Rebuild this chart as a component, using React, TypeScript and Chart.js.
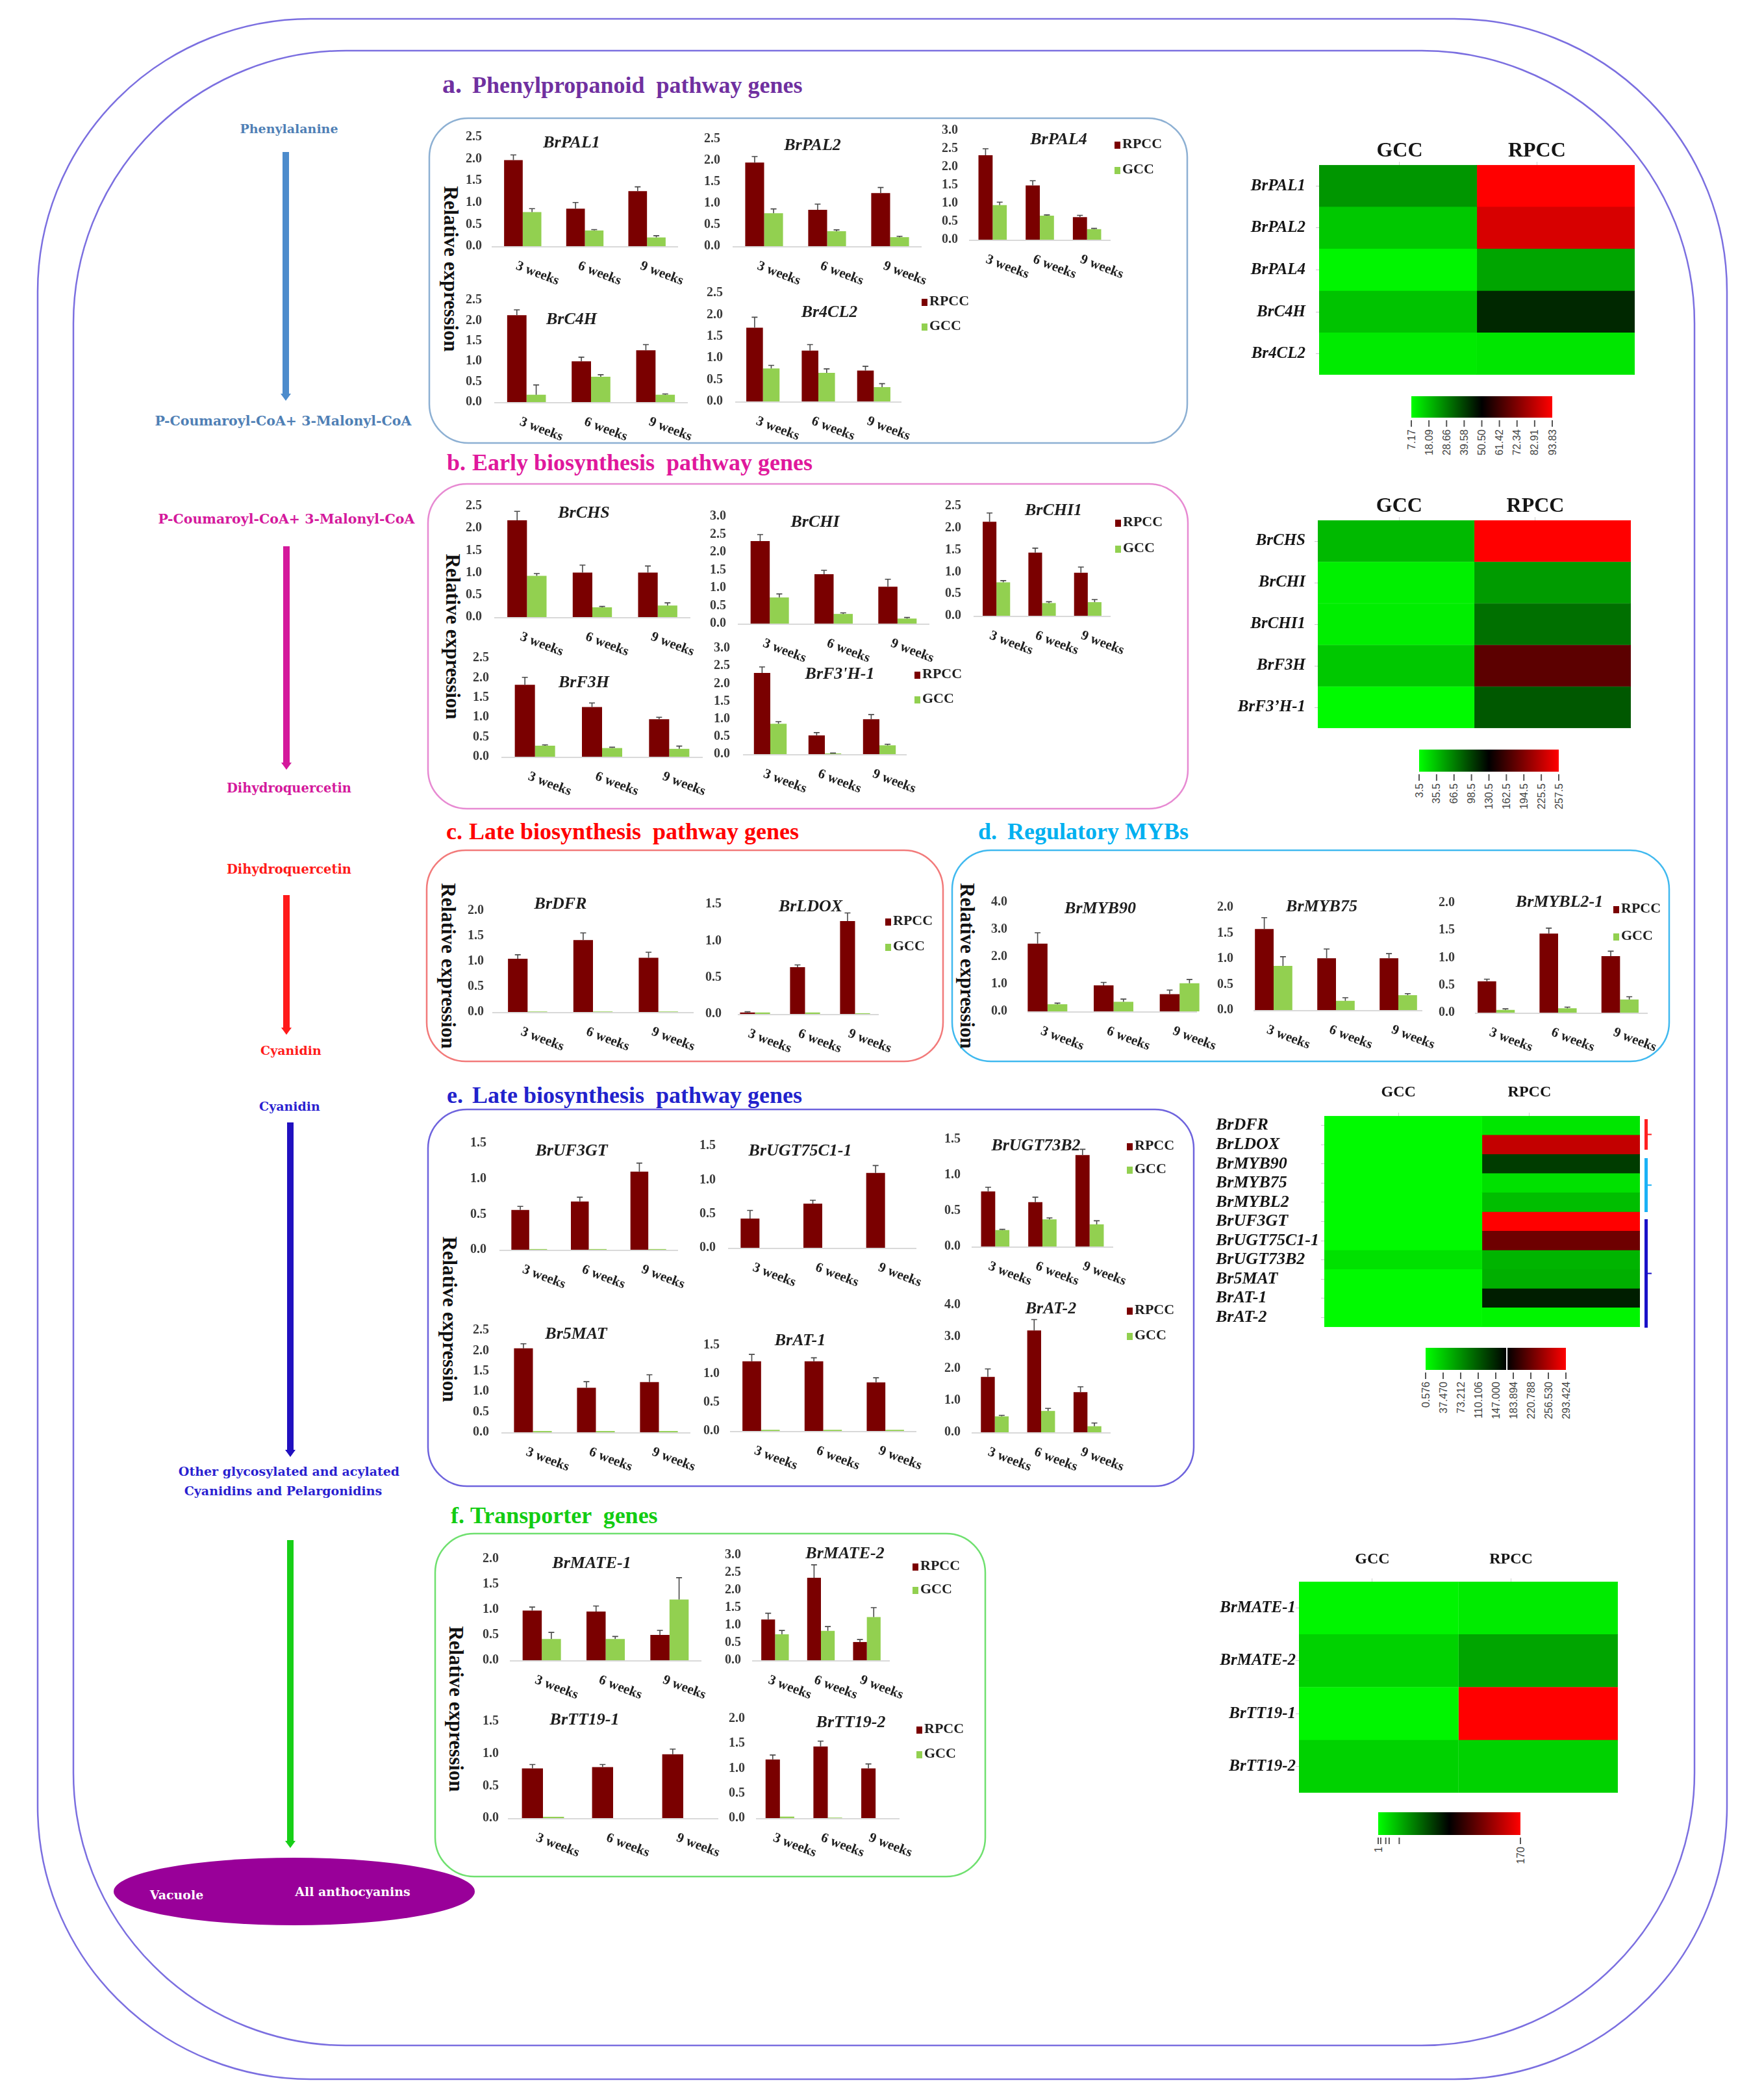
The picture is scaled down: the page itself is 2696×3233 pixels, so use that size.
import React, { useEffect, useRef } from "react";
import { Chart, registerables } from "chart.js";

Chart.register(...registerables);

const SERIF = "Liberation Serif";
const WIDE = "DejaVu Serif";
const SANS = "Liberation Sans";

// ---------- bar chart data ----------
const WEEKS = ["3 weeks", "6 weeks", "9 weeks"];
const SERIES = ["RPCC", "GCC"];
const SERIES_COLORS = ["#7a0000", "#92d050"];

// a. Phenylpropanoid pathway genes
const BrPAL1_RPCC = [1.97, 0.86, 1.26];
const BrPAL1_RPCC_ERR = [0.12, 0.14, 0.1];
const BrPAL1_GCC = [0.78, 0.36, 0.2];
const BrPAL1_GCC_ERR = [0.08, 0.02, 0.04];
const BrPAL2_RPCC = [1.95, 0.85, 1.24];
const BrPAL2_RPCC_ERR = [0.14, 0.13, 0.13];
const BrPAL2_GCC = [0.77, 0.35, 0.21];
const BrPAL2_GCC_ERR = [0.1, 0.03, 0.02];
const BrPAL4_RPCC = [2.32, 1.49, 0.62];
const BrPAL4_RPCC_ERR = [0.18, 0.13, 0.05];
const BrPAL4_GCC = [0.95, 0.66, 0.29];
const BrPAL4_GCC_ERR = [0.08, 0.02, 0.02];
const BrC4H_RPCC = [2.13, 1.0, 1.27];
const BrC4H_RPCC_ERR = [0.13, 0.1, 0.14];
const BrC4H_GCC = [0.18, 0.62, 0.18];
const BrC4H_GCC_ERR = [0.24, 0.05, 0.02];
const Br4CL2_RPCC = [1.7, 1.17, 0.71];
const Br4CL2_RPCC_ERR = [0.24, 0.14, 0.1];
const Br4CL2_GCC = [0.76, 0.66, 0.33];
const Br4CL2_GCC_ERR = [0.07, 0.09, 0.08];
// b. Early biosynthesis pathway genes
const BrCHS_RPCC = [2.18, 1.0, 1.0];
const BrCHS_RPCC_ERR = [0.2, 0.17, 0.15];
const BrCHS_GCC = [0.93, 0.22, 0.26];
const BrCHS_GCC_ERR = [0.05, 0.02, 0.06];
const BrCHI_RPCC = [2.31, 1.38, 1.03];
const BrCHI_RPCC_ERR = [0.18, 0.11, 0.21];
const BrCHI_GCC = [0.73, 0.27, 0.14];
const BrCHI_GCC_ERR = [0.1, 0.03, 0.03];
const BrCHI1_RPCC = [2.14, 1.44, 0.98];
const BrCHI1_RPCC_ERR = [0.2, 0.1, 0.13];
const BrCHI1_GCC = [0.76, 0.29, 0.31];
const BrCHI1_GCC_ERR = [0.04, 0.03, 0.06];
const BrF3H_RPCC = [1.82, 1.26, 0.95];
const BrF3H_RPCC_ERR = [0.19, 0.1, 0.05];
const BrF3H_GCC = [0.28, 0.22, 0.2];
const BrF3H_GCC_ERR = [0.02, 0.02, 0.07];
const BrF3pH1_RPCC = [2.3, 0.53, 0.99];
const BrF3pH1_RPCC_ERR = [0.17, 0.08, 0.13];
const BrF3pH1_GCC = [0.86, 0.02, 0.25];
const BrF3pH1_GCC_ERR = [0.06, 0.01, 0.03];
// c. Late biosynthesis pathway genes
const BrDFR_RPCC = [1.05, 1.42, 1.07];
const BrDFR_RPCC_ERR = [0.08, 0.14, 0.11];
const BrDFR_GCC = [0.01, 0.01, 0.01];
const BrDFR_GCC_ERR = [0, 0, 0];
const BrLDOX_RPCC = [0.02, 0.64, 1.27];
const BrLDOX_RPCC_ERR = [0.01, 0.03, 0.11];
const BrLDOX_GCC = [0.02, 0.02, 0.01];
const BrLDOX_GCC_ERR = [0, 0, 0];
// d. Regulatory MYBs
const BrMYB90_RPCC = [2.48, 0.95, 0.63];
const BrMYB90_RPCC_ERR = [0.4, 0.11, 0.15];
const BrMYB90_GCC = [0.26, 0.35, 1.03];
const BrMYB90_GCC_ERR = [0.04, 0.1, 0.14];
const BrMYB75_RPCC = [1.58, 1.01, 1.01];
const BrMYB75_RPCC_ERR = [0.22, 0.18, 0.09];
const BrMYB75_GCC = [0.86, 0.18, 0.29];
const BrMYB75_GCC_ERR = [0.18, 0.06, 0.03];
const BrMYBL21_RPCC = [0.57, 1.44, 1.03];
const BrMYBL21_RPCC_ERR = [0.04, 0.1, 0.09];
const BrMYBL21_GCC = [0.05, 0.08, 0.24];
const BrMYBL21_GCC_ERR = [0.02, 0.02, 0.05];
// e. Late biosynthesis pathway genes
const BrUF3GT_RPCC = [0.56, 0.68, 1.1];
const BrUF3GT_RPCC_ERR = [0.05, 0.06, 0.12];
const BrUF3GT_GCC = [0.01, 0.01, 0.01];
const BrUF3GT_GCC_ERR = [0, 0, 0];
const BrUGT75C11_RPCC = [0.43, 0.65, 1.1];
const BrUGT75C11_RPCC_ERR = [0.12, 0.05, 0.11];
const BrUGT75C11_GCC = [0, 0, 0];
const BrUGT75C11_GCC_ERR = [0, 0, 0];
const BrUGT73B2_RPCC = [0.77, 0.62, 1.28];
const BrUGT73B2_RPCC_ERR = [0.06, 0.07, 0.08];
const BrUGT73B2_GCC = [0.23, 0.38, 0.31];
const BrUGT73B2_GCC_ERR = [0.01, 0.02, 0.05];
const Br5MAT_RPCC = [2.06, 1.09, 1.23];
const Br5MAT_RPCC_ERR = [0.11, 0.15, 0.18];
const Br5MAT_GCC = [0.03, 0.03, 0.03];
const Br5MAT_GCC_ERR = [0, 0, 0];
const BrAT1_RPCC = [1.22, 1.22, 0.85];
const BrAT1_RPCC_ERR = [0.12, 0.06, 0.08];
const BrAT1_GCC = [0.02, 0.02, 0.02];
const BrAT1_GCC_ERR = [0, 0, 0];
const BrAT2_RPCC = [1.74, 3.2, 1.26];
const BrAT2_RPCC_ERR = [0.25, 0.34, 0.17];
const BrAT2_GCC = [0.5, 0.67, 0.19];
const BrAT2_GCC_ERR = [0.03, 0.08, 0.1];
// f. Transporter genes
const BrMATE1_RPCC = [0.98, 0.96, 0.5];
const BrMATE1_RPCC_ERR = [0.07, 0.11, 0.09];
const BrMATE1_GCC = [0.42, 0.42, 1.2];
const BrMATE1_GCC_ERR = [0.13, 0.05, 0.43];
const BrMATE2_RPCC = [1.16, 2.35, 0.52];
const BrMATE2_RPCC_ERR = [0.18, 0.37, 0.07];
const BrMATE2_GCC = [0.74, 0.84, 1.23];
const BrMATE2_GCC_ERR = [0.11, 0.12, 0.27];
const BrTT191_RPCC = [0.77, 0.79, 0.99];
const BrTT191_RPCC_ERR = [0.06, 0.04, 0.08];
const BrTT191_GCC = [0.02, 0, 0];
const BrTT191_GCC_ERR = [0, 0, 0];
const BrTT192_RPCC = [1.18, 1.44, 1.0];
const BrTT192_RPCC_ERR = [0.09, 0.11, 0.09];
const BrTT192_GCC = [0.03, 0.01, 0];
const BrTT192_GCC_ERR = [0, 0, 0];

// ---------- heatmap data ----------
const HM_COLUMNS = ["GCC", "RPCC"];
const HM_A_GENES = ["BrPAL1", "BrPAL2", "BrPAL4", "BrC4H", "Br4CL2"];
const HM_A_GCC = [25.0, 16.5, 8.9, 17.4, 10.6];
const HM_A_RPCC = [93.8, 87.0, 22.5, 43.7, 11.4];
const HM_A_RANGE = [7.17, 93.83];
const HM_A_TICKS = ["7.17", "18.09", "28.66", "39.58", "50.50", "61.42", "72.34", "82.91", "93.83"];

const HM_B_GENES = ["BrCHS", "BrCHI", "BrCHI1", "BrF3H", "BrF3\u2019H-1"];
const HM_B_GCC = [38.4, 11.0, 12.0, 30.9, 6.0];
const HM_B_RPCC = [257.5, 53.3, 74.7, 176.3, 86.7];
const HM_B_RANGE = [3.5, 257.5];
const HM_B_TICKS = ["3.5", "35.5", "66.5", "98.5", "130.5", "162.5", "194.5", "225.5", "257.5"];

const HM_E_GENES = ["BrDFR", "BrLDOX", "BrMYB90", "BrMYB75", "BrMYBL2", "BrUF3GT", "BrUGT75C1-1", "BrUGT73B2", "Br5MAT", "BrAT-1", "BrAT-2"];
const HM_E_GCC = [3.5, 3.5, 3.5, 3.5, 3.5, 3.5, 3.5, 17.8, 3.5, 3.5, 3.5];
const HM_E_RPCC = [15.0, 259.0, 112.5, 17.8, 38.0, 293.4, 210.2, 43.6, 46.5, 129.8, 6.3];
const HM_E_RANGE = [0.576, 293.424];
const HM_E_TICKS = ["0.576", "37.470", "73.212", "110.106", "147.000", "183.894", "220.788", "256.530", "293.424"];

const HM_F_GENES = ["BrMATE-1", "BrMATE-2", "BrTT19-1", "BrTT19-2"];
const HM_F_GCC = [4.3, 15.9, 4.3, 15.9];
const HM_F_RPCC = [7.6, 30.8, 170.0, 15.9];
const HM_F_RANGE = [1, 170];
const HM_F_TICK_VALUES = [1, 4, 10, 14, 26, 170];
const HM_F_TICKS = ["1", "", "", "", "", "170"];

// ---------- layout (positions only) ----------
const BAR_LAYOUT = [
  { gene: "BrPAL1", d: [BrPAL1_RPCC, BrPAL1_GCC], e: [BrPAL1_RPCC_ERR, BrPAL1_GCC_ERR], ymax: 2.5, step: 0.5, x0: 757, x1: 1044, yTop: 211, yBot: 379, lr: 742, title: [880, 220] },
  { gene: "BrPAL2", d: [BrPAL2_RPCC, BrPAL2_GCC], e: [BrPAL2_RPCC_ERR, BrPAL2_GCC_ERR], ymax: 2.5, step: 0.5, x0: 1128, x1: 1419, yTop: 214, yBot: 379, lr: 1109, title: [1251, 224] },
  { gene: "BrPAL4", d: [BrPAL4_RPCC, BrPAL4_GCC], e: [BrPAL4_RPCC_ERR, BrPAL4_GCC_ERR], ymax: 3.0, step: 0.5, x0: 1492, x1: 1710, yTop: 201, yBot: 369, lr: 1475, title: [1630, 215], legend: [1716, 222, 261] },
  { gene: "BrC4H", d: [BrC4H_RPCC, BrC4H_GCC], e: [BrC4H_RPCC_ERR, BrC4H_GCC_ERR], ymax: 2.5, step: 0.5, x0: 761, x1: 1059, yTop: 462, yBot: 619, lr: 742, title: [880, 492] },
  { gene: "Br4CL2", d: [Br4CL2_RPCC, Br4CL2_GCC], e: [Br4CL2_RPCC_ERR, Br4CL2_GCC_ERR], ymax: 2.5, step: 0.5, x0: 1132, x1: 1388, yTop: 451, yBot: 618, lr: 1113, title: [1277, 481], legend: [1419, 464, 502] },
  { gene: "BrCHS", d: [BrCHS_RPCC, BrCHS_GCC], e: [BrCHS_RPCC_ERR, BrCHS_GCC_ERR], ymax: 2.5, step: 0.5, x0: 761, x1: 1063, yTop: 779, yBot: 950, lr: 742, title: [899, 790] },
  { gene: "BrCHI", d: [BrCHI_RPCC, BrCHI_GCC], e: [BrCHI_RPCC_ERR, BrCHI_GCC_ERR], ymax: 3.0, step: 0.5, x0: 1136, x1: 1431, yTop: 795, yBot: 960, lr: 1118, title: [1255, 804] },
  { gene: "BrCHI1", d: [BrCHI1_RPCC, BrCHI1_GCC], e: [BrCHI1_RPCC_ERR, BrCHI1_GCC_ERR], ymax: 2.5, step: 0.5, x0: 1499, x1: 1710, yTop: 779, yBot: 948, lr: 1480, title: [1622, 786], legend: [1717, 804, 844] },
  { gene: "BrF3H", d: [BrF3H_RPCC, BrF3H_GCC], e: [BrF3H_RPCC_ERR, BrF3H_GCC_ERR], ymax: 2.5, step: 0.5, x0: 772, x1: 1082, yTop: 1013, yBot: 1165, lr: 753, title: [899, 1051] },
  { gene: "BrF3'H-1", d: [BrF3pH1_RPCC, BrF3pH1_GCC], e: [BrF3pH1_RPCC_ERR, BrF3pH1_GCC_ERR], ymax: 3.0, step: 0.5, x0: 1144, x1: 1396, yTop: 998, yBot: 1161, lr: 1124, title: [1293, 1038], legend: [1408, 1038, 1076] },
  { gene: "BrDFR", d: [BrDFR_RPCC, BrDFR_GCC], e: [BrDFR_RPCC_ERR, BrDFR_GCC_ERR], ymax: 2.0, step: 0.5, x0: 762, x1: 1064, yTop: 1402, yBot: 1558, lr: 745, title: [863, 1392], axis: [758, 1068] },
  { gene: "BrLDOX", d: [BrLDOX_RPCC, BrLDOX_GCC], e: [BrLDOX_RPCC_ERR, BrLDOX_GCC_ERR], ymax: 1.5, step: 0.5, x0: 1124, x1: 1355, yTop: 1392, yBot: 1561, lr: 1111, title: [1248, 1396], legend: [1363, 1418, 1457], axis: [1136, 1353] },
  { gene: "BrMYB90", d: [BrMYB90_RPCC, BrMYB90_GCC], e: [BrMYB90_RPCC_ERR, BrMYB90_GCC_ERR], ymax: 4.0, step: 1.0, x0: 1562, x1: 1867, yTop: 1389, yBot: 1557, lr: 1551, title: [1694, 1399], axis: [1582, 1843] },
  { gene: "BrMYB75", d: [BrMYB75_RPCC, BrMYB75_GCC], e: [BrMYB75_RPCC_ERR, BrMYB75_GCC_ERR], ymax: 2.0, step: 0.5, x0: 1913, x1: 2201, yTop: 1397, yBot: 1555, lr: 1899, title: [2035, 1396], axis: [1930, 2190] },
  { gene: "BrMYBL2-1", d: [BrMYBL21_RPCC, BrMYBL21_GCC], e: [BrMYBL21_RPCC_ERR, BrMYBL21_GCC_ERR], ymax: 2.0, step: 0.5, x0: 2256, x1: 2542, yTop: 1390, yBot: 1559, lr: 2240, title: [2401, 1389], legend: [2484, 1399, 1441], axis: [2271, 2537] },
  { gene: "BrUF3GT", d: [BrUF3GT_RPCC, BrUF3GT_GCC], e: [BrUF3GT_RPCC_ERR, BrUF3GT_GCC_ERR], ymax: 1.5, step: 0.5, x0: 769, x1: 1044, yTop: 1760, yBot: 1924, lr: 749, title: [880, 1772] },
  { gene: "BrUGT75C1-1", d: [BrUGT75C11_RPCC, BrUGT75C11_GCC], e: [BrUGT75C11_RPCC_ERR, BrUGT75C11_GCC_ERR], ymax: 1.5, step: 0.5, x0: 1121, x1: 1411, yTop: 1764, yBot: 1921, lr: 1102, title: [1232, 1772] },
  { gene: "BrUGT73B2", d: [BrUGT73B2_RPCC, BrUGT73B2_GCC], e: [BrUGT73B2_RPCC_ERR, BrUGT73B2_GCC_ERR], ymax: 1.5, step: 0.5, x0: 1496, x1: 1714, yTop: 1754, yBot: 1919, lr: 1479, title: [1595, 1764], legend: [1735, 1764, 1800] },
  { gene: "Br5MAT", d: [Br5MAT_RPCC, Br5MAT_GCC], e: [Br5MAT_RPCC_ERR, Br5MAT_GCC_ERR], ymax: 2.5, step: 0.5, x0: 772, x1: 1063, yTop: 2048, yBot: 2205, lr: 753, title: [887, 2054] },
  { gene: "BrAT-1", d: [BrAT1_RPCC, BrAT1_GCC], e: [BrAT1_RPCC_ERR, BrAT1_GCC_ERR], ymax: 1.5, step: 0.5, x0: 1124, x1: 1411, yTop: 2071, yBot: 2203, lr: 1108, title: [1232, 2064] },
  { gene: "BrAT-2", d: [BrAT2_RPCC, BrAT2_GCC], e: [BrAT2_RPCC_ERR, BrAT2_GCC_ERR], ymax: 4.0, step: 1.0, x0: 1496, x1: 1710, yTop: 2009, yBot: 2205, lr: 1479, title: [1618, 2015], legend: [1735, 2017, 2056] },
  { gene: "BrMATE-1", d: [BrMATE1_RPCC, BrMATE1_GCC], e: [BrMATE1_RPCC_ERR, BrMATE1_GCC_ERR], ymax: 2.0, step: 0.5, x0: 785, x1: 1080, yTop: 2400, yBot: 2556, lr: 768, title: [911, 2407] },
  { gene: "BrMATE-2", d: [BrMATE2_RPCC, BrMATE2_GCC], e: [BrMATE2_RPCC_ERR, BrMATE2_GCC_ERR], ymax: 3.0, step: 0.5, x0: 1158, x1: 1370, yTop: 2394, yBot: 2556, lr: 1141, title: [1301, 2392], legend: [1405, 2411, 2447] },
  { gene: "BrTT19-1", d: [BrTT191_RPCC, BrTT191_GCC], e: [BrTT191_RPCC_ERR, BrTT191_GCC_ERR], ymax: 1.5, step: 0.5, x0: 782, x1: 1106, yTop: 2650, yBot: 2799, lr: 768, title: [900, 2648] },
  { gene: "BrTT19-2", d: [BrTT192_RPCC, BrTT192_GCC], e: [BrTT192_RPCC_ERR, BrTT192_GCC_ERR], ymax: 2.0, step: 0.5, x0: 1164, x1: 1385, yTop: 2646, yBot: 2799, lr: 1147, title: [1310, 2652], legend: [1411, 2662, 2700] },
];

const HEATMAPS = [
  { genes: HM_A_GENES, values: [HM_A_GCC, HM_A_RPCC], range: HM_A_RANGE, colAt: [0.51, 1.38], left: 1900, top: 190, cx0: 2031, cx1: 2517, cy0: 254, cy1: 578, colFont: 32, colPad: 0, rowFont: 25, rowPad: 16, rowAlign: "near" },
  { genes: HM_B_GENES, values: [HM_B_GCC, HM_B_RPCC], range: HM_B_RANGE, colAt: [0.52, 1.39], left: 1900, top: 740, cx0: 2029, cx1: 2511, cy0: 801, cy1: 1121, colFont: 32, colPad: 0, rowFont: 25, rowPad: 14, rowAlign: "near" },
  { genes: HM_E_GENES, values: [HM_E_GCC, HM_E_RPCC], range: HM_E_RANGE, colAt: [0.47, 1.3], left: 1872, top: 1640, cx0: 2039, cx1: 2525, cy0: 1718, cy1: 2043, colFont: 24, colPad: 19, rowFont: 26, rowPad: 8, rowAlign: "far" },
  { genes: HM_F_GENES, values: [HM_F_GCC, HM_F_RPCC], range: HM_F_RANGE, colAt: [0.46, 1.33], left: 1860, top: 2360, cx0: 2000, cx1: 2491, cy0: 2435, cy1: 2760, colFont: 24, colPad: 17, rowFont: 25, rowPad: 0, rowAlign: "near" },
];

const COLORBARS = [
  { id: "cbA", x0: 2173, x1: 2390, y0: 610, y1: 643, labels: HM_A_TICKS, range: HM_A_RANGE },
  { id: "cbB", x0: 2185, x1: 2400, y0: 1154, y1: 1188, labels: HM_B_TICKS, range: HM_B_RANGE },
  { id: "cbE", x0: 2195, x1: 2411, y0: 2075, y1: 2109, labels: HM_E_TICKS, range: HM_E_RANGE, divider: 0.579 },
  { id: "cbF", x0: 2122, x1: 2341, y0: 2790, y1: 2825, labels: HM_F_TICKS, range: HM_F_RANGE, values: HM_F_TICK_VALUES },
];

function heatColor(v: number, lo: number, hi: number) {
  const mid = (lo + hi) / 2;
  if (v <= mid) {
    const g = Math.max(0, Math.min(255, Math.round((255 * (mid - v)) / (mid - lo))));
    return `rgb(0,${g},0)`;
  }
  const r = Math.max(0, Math.min(255, Math.round((255 * (v - mid)) / (hi - mid))));
  return `rgb(${r},0,0)`;
}

function decorPlugin(spec: any, left: number, top: number) {
  return {
    id: "decor",
    beforeDatasetsDraw(chart: any) {
      const ctx = chart.ctx;
      const yS = chart.scales.y;
      const area = chart.chartArea;
      const y0 = Math.round(yS.getPixelForValue(0)) + 1;
      const ax0 = spec.axis ? spec.axis[0] - left : area.left;
      const ax1 = spec.axis ? spec.axis[1] - left : area.right;
      ctx.save();
      ctx.strokeStyle = "#d9d9d9";
      ctx.lineWidth = 2;
      ctx.beginPath();
      ctx.moveTo(ax0, y0);
      ctx.lineTo(ax1, y0);
      ctx.stroke();
      ctx.restore();
    },
    afterDatasetsDraw(chart: any) {
      const ctx = chart.ctx;
      const yS = chart.scales.y;
      ctx.save();
      ctx.strokeStyle = "#4a4a4a";
      ctx.lineWidth = 1.6;
      chart.data.datasets.forEach((ds: any, i: number) => {
        const meta = chart.getDatasetMeta(i);
        ds.errors.forEach((err: number, j: number) => {
          if (!err) return;
          const bar = meta.data[j];
          const ye = yS.getPixelForValue(ds.data[j] + err);
          ctx.beginPath();
          ctx.moveTo(bar.x, bar.y);
          ctx.lineTo(bar.x, ye);
          ctx.moveTo(bar.x - 4.5, ye);
          ctx.lineTo(bar.x + 4.5, ye);
          ctx.stroke();
        });
      });
      ctx.restore();
    },
    afterDraw(chart: any) {
      const ctx = chart.ctx;
      const xS = chart.scales.x;
      const area = chart.chartArea;
      ctx.save();
      ctx.fillStyle = "#1e1e1e";
      ctx.font = `italic bold 26px "${SERIF}"`;
      ctx.textAlign = "center";
      ctx.textBaseline = "middle";
      ctx.fillText(spec.gene, spec.title[0] - left, spec.title[1] - top);
      ctx.font = `bold 21px "${SERIF}"`;
      ctx.textAlign = "left";
      ctx.textBaseline = "top";
      chart.data.labels.forEach((lab: string, i: number) => {
        const x = xS.getPixelForValue(i);
        ctx.save();
        ctx.translate(x - 6, area.bottom + 20);
        ctx.rotate((21 * Math.PI) / 180);
        ctx.fillText(lab, 0, 0);
        ctx.restore();
      });
      if (spec.legend) {
        const [lx, ly1, ly2] = spec.legend;
        [ly1, ly2].forEach((ly: number, k: number) => {
          ctx.fillStyle = SERIES_COLORS[k];
          ctx.fillRect(lx - left, ly - top - 4, 9, 11);
          ctx.fillStyle = "#1e1e1e";
          ctx.font = `bold 22px "${SERIF}"`;
          ctx.textBaseline = "middle";
          ctx.fillText(SERIES[k], lx - left + 12, ly - top);
        });
      }
      ctx.restore();
    },
  };
}

function BarChart({ spec }: { spec: any }) {
  const ref = useRef<HTMLCanvasElement>(null);
  const L = 70, T = 45, B = 85;
  const R = spec.legend ? Math.max(20, spec.legend[0] + 100 - spec.x1) : 20;
  const left = spec.x0 - L;
  const top = spec.yTop - T;
  const width = spec.x1 - spec.x0 + L + R;
  const height = spec.yBot - spec.yTop + T + B;
  useEffect(() => {
    const chart = new Chart(ref.current as HTMLCanvasElement, {
      type: "bar",
      data: {
        labels: WEEKS,
        datasets: SERIES.map((s, k) => ({
          label: s,
          data: spec.d[k],
          errors: spec.e[k],
          backgroundColor: SERIES_COLORS[k],
          borderWidth: 0,
          categoryPercentage: 0.6,
          barPercentage: 1,
        })) as any,
      },
      options: {
        responsive: false,
        animation: false,
        devicePixelRatio: 1,
        layout: { padding: { left: 0, top: T, right: R, bottom: B } },
        plugins: { legend: { display: false }, tooltip: { enabled: false } },
        scales: {
          x: {
            grid: { display: false, drawTicks: false },
            border: { display: false },
            ticks: { display: false },
            afterFit: (s: any) => { s.height = 0; },
          },
          y: {
            min: 0,
            max: spec.ymax,
            grid: { display: false, drawTicks: false },
            border: { display: false },
            ticks: {
              stepSize: spec.step,
              padding: spec.x0 - spec.lr,
              color: "#3a3a3a",
              font: { family: SERIF, size: 20, weight: "bold" },
              callback: (v: any) => Number(v).toFixed(1),
            },
            afterFit: (s: any) => { s.width = L; },
          },
        },
      } as any,
      plugins: [decorPlugin(spec, left, top)],
    });
    return () => chart.destroy();
  }, []);
  return (
    <canvas
      ref={ref}
      width={width}
      height={height}
      style={{ position: "absolute", left, top, width, height }}
    />
  );
}

function Heatmap({ h }: { h: any }) {
  const ref = useRef<HTMLCanvasElement>(null);
  const padR = 12, padB = 30;
  const width = h.cx1 - h.left + padR;
  const height = h.cy1 - h.top + padB;
  useEffect(() => {
    const [lo, hi] = h.range;
    const chart = new Chart(ref.current as HTMLCanvasElement, {
      type: "bar",
      data: {
        labels: h.genes,
        datasets: HM_COLUMNS.map((c, k) => ({
          label: c,
          data: h.genes.map(() => 1),
          heat: h.values[k],
          backgroundColor: h.values[k].map((v: number) => heatColor(v, lo, hi)),
          borderColor: h.values[k].map((v: number) => heatColor(v, lo, hi)),
          borderWidth: 0.5,
          categoryPercentage: 1,
          barPercentage: 1,
        })) as any,
      },
      options: {
        indexAxis: "y",
        responsive: false,
        animation: false,
        devicePixelRatio: 1,
        layout: { padding: { left: 0, top: 0, right: padR, bottom: padB } },
        plugins: { legend: { display: false }, tooltip: { enabled: false } },
        scales: {
          x: {
            type: "linear",
            position: "top",
            stacked: true,
            min: 0,
            max: HM_COLUMNS.length,
            grid: { display: true, drawOnChartArea: false, tickLength: 5, color: "#d0d0d0" },
            border: { display: false },
            afterBuildTicks: (s: any) => { s.ticks = h.colAt.map((v: number) => ({ value: v })); },
            afterFit: (s: any) => { s.height = h.cy0 - h.top; },
            ticks: {
              autoSkip: false,
              maxRotation: 0,
              minRotation: 0,
              padding: h.colPad,
              color: "#151515",
              font: { family: SERIF, size: h.colFont, weight: "bold", lineHeight: 1 },
              callback: (_v: any, i: number) => HM_COLUMNS[i],
            },
          },
          y: {
            type: "category",
            stacked: true,
            offset: true,
            grid: { display: true, offset: false, drawOnChartArea: false, tickLength: 5, color: "#c8c8c8" },
            border: { display: false },
            afterFit: (s: any) => { s.width = h.cx0 - h.left; },
            ticks: {
              autoSkip: false,
              padding: h.rowPad,
              crossAlign: h.rowAlign,
              color: "#151515",
              font: { family: SERIF, size: h.rowFont, weight: "bold", style: "italic" },
            },
          },
        },
      } as any,
    });
    return () => chart.destroy();
  }, []);
  return (
    <canvas
      ref={ref}
      width={width}
      height={height}
      style={{ position: "absolute", left: h.left, top: h.top, width, height }}
    />
  );
}

function ColorBar({ cb }: { cb: any }) {
  const n = cb.labels.length;
  const [lo, hi] = cb.range;
  const xs = cb.values
    ? cb.values.map((v: number) => cb.x0 + ((v - lo) / (hi - lo)) * (cb.x1 - cb.x0))
    : cb.labels.map((_l: string, i: number) => cb.x0 + (i / (n - 1)) * (cb.x1 - cb.x0));
  const ly = cb.y1 + 18;
  return (
    <g>
      <defs>
        <linearGradient id={cb.id} x1="0" x2="1" y1="0" y2="0">
          <stop offset="0" stopColor="#00ff00" />
          <stop offset={cb.divider ? cb.divider : 0.5} stopColor="#000000" />
          <stop offset="1" stopColor="#ff0000" />
        </linearGradient>
      </defs>
      <rect x={cb.x0} y={cb.y0} width={cb.x1 - cb.x0} height={cb.y1 - cb.y0} fill={`url(#${cb.id})`} />
      {cb.divider ? (
        <rect x={cb.x0 + cb.divider * (cb.x1 - cb.x0) - 1} y={cb.y0} width={2} height={cb.y1 - cb.y0} fill="#ffffff" />
      ) : null}
      {xs.map((x: number, i: number) => (
        <line key={"t" + i} x1={x} x2={x} y1={cb.y1 + 4} y2={cb.y1 + 14} stroke="#555" strokeWidth={2} />
      ))}
      {xs.map((x: number, i: number) =>
        cb.labels[i] ? (
          <text
            key={"l" + i}
            x={x}
            y={ly}
            transform={`rotate(-90 ${x} ${ly})`}
            textAnchor="end"
            dominantBaseline="central"
            fontFamily={SANS}
            fontSize={16}
            fill="#444"
          >
            {cb.labels[i]}
          </text>
        ) : null
      )}
    </g>
  );
}

const PANEL_TITLES = [
  { letter: "a.", text: "Phenylpropanoid  pathway genes", color: "#7030a0", lx: 681, tx: 727, cy: 131, ls: 40 },
  { letter: "b.", text: "Early biosynthesis  pathway genes", color: "#e0189c", lx: 688, tx: 727, cy: 712, ls: 36 },
  { letter: "c.", text: "Late biosynthesis  pathway genes", color: "#ff0000", lx: 687, tx: 722, cy: 1280, ls: 36 },
  { letter: "d.", text: "Regulatory MYBs", color: "#00b0f0", lx: 1506, tx: 1551, cy: 1280, ls: 36 },
  { letter: "e.", text: "Late biosynthesis  pathway genes", color: "#2222cc", lx: 688, tx: 727, cy: 1686, ls: 36 },
  { letter: "f.", text: "Transporter  genes", color: "#12cc12", lx: 694, tx: 724, cy: 2333, ls: 36 },
];

const PANEL_BOXES = [
  { x: 661, y: 182, w: 1167, h: 500, c: "#8db0d3" },
  { x: 659, y: 745, w: 1170, h: 500, c: "#e78ad2" },
  { x: 657, y: 1309, w: 795, h: 325, c: "#f27a7a" },
  { x: 1466, y: 1309, w: 1104, h: 325, c: "#40b9ef" },
  { x: 659, y: 1708, w: 1179, h: 580, c: "#6e63dd" },
  { x: 670, y: 2361, w: 847, h: 528, c: "#6fe06f" },
];

const YLABELS = [
  [694, 414], [697, 980], [690, 1487], [1489, 1487], [692, 2031], [702, 2631],
];

const PATH_TEXT = [
  { t: "Phenylalanine", x: 445, y: 198, c: "#4f7fb5", s: 19 },
  { t: "P-Coumaroyl-CoA+ 3-Malonyl-CoA", x: 436, y: 648, c: "#4f7fb5", s: 20.5 },
  { t: "P-Coumaroyl-CoA+ 3-Malonyl-CoA", x: 441, y: 799, c: "#d4199c", s: 20.5 },
  { t: "Dihydroquercetin", x: 445, y: 1213, c: "#d4199c", s: 19.5 },
  { t: "Dihydroquercetin", x: 445, y: 1338, c: "#ff1a1a", s: 19.5 },
  { t: "Cyanidin", x: 448, y: 1617, c: "#ff1a1a", s: 19 },
  { t: "Cyanidin", x: 446, y: 1703, c: "#2a1fd0", s: 19 },
  { t: "Other glycosylated and acylated", x: 445, y: 2265, c: "#2a1fd0", s: 19 },
  { t: "Cyanidins and Pelargonidins", x: 436, y: 2295, c: "#2a1fd0", s: 19 },
];

const ARROWS = [
  { x: 440, y1: 234, y2: 617, c: "#4d8ccc" },
  { x: 441, y1: 841, y2: 1185, c: "#d4199c" },
  { x: 441, y1: 1378, y2: 1593, c: "#ff1a1a" },
  { x: 447, y1: 1728, y2: 2243, c: "#2010c0" },
  { x: 447, y1: 2371, y2: 2845, c: "#17cf17" },
];

const BRACKETS = [
  { y0: 1723, y1: 1770, c: "#ff2020" },
  { y0: 1783, y1: 1866, c: "#1ab2f5" },
  { y0: 1877, y1: 2044, c: "#1a12c8" },
];

export default function App() {
  return (
    <div style={{ position: "absolute", left: 0, top: 0, width: 2696, height: 3233, background: "#fff", overflow: "hidden" }}>
      <svg width={2696} height={3233} style={{ position: "absolute", left: 0, top: 0 }}>
        <rect x={58} y={29} width={2601} height={3172} rx={420} ry={420} fill="none" stroke="#7b6fe0" strokeWidth={2.5} />
        <rect x={113} y={78} width={2496} height={3071} rx={420} ry={420} fill="none" stroke="#7b6fe0" strokeWidth={2.5} />
        {PANEL_BOXES.map((b, i) => (
          <rect key={i} x={b.x} y={b.y} width={b.w} height={b.h} rx={60} ry={60} fill="none" stroke={b.c} strokeWidth={2.5} />
        ))}
        {PANEL_TITLES.map((p, i) => (
          <g key={i} fill={p.color} fontFamily={SERIF} fontWeight="bold">
            <text x={p.lx} y={p.cy + 12} fontSize={p.ls}>{p.letter}</text>
            <text x={p.tx} y={p.cy + 12} fontSize={36} style={{ whiteSpace: "pre" }}>{p.text}</text>
          </g>
        ))}
        {YLABELS.map(([x, y], i) => (
          <text key={i} x={x} y={y} transform={`rotate(90 ${x} ${y})`} textAnchor="middle" dominantBaseline="central" fontFamily={SERIF} fontWeight="bold" fontSize={31} fill="#111">
            Relative expression
          </text>
        ))}
        {ARROWS.map((a, i) => (
          <g key={i} fill={a.c}>
            <rect x={a.x - 5} y={a.y1} width={10} height={a.y2 - a.y1 - 10} />
            <polygon points={`${a.x - 8},${a.y2 - 11} ${a.x + 8},${a.y2 - 11} ${a.x},${a.y2}`} />
          </g>
        ))}
        {PATH_TEXT.map((p, i) => (
          <text key={i} x={p.x} y={p.y} textAnchor="middle" dominantBaseline="central" fontFamily={WIDE} fontWeight="bold" fontSize={p.s} fill={p.c}>
            {p.t}
          </text>
        ))}
        <ellipse cx={453} cy={2912} rx={278} ry={52} fill="#990099" />
        <text x={272} y={2917} textAnchor="middle" dominantBaseline="central" fontFamily={WIDE} fontWeight="bold" fontSize={19} fill="#fff">Vacuole</text>
        <text x={543} y={2912} textAnchor="middle" dominantBaseline="central" fontFamily={WIDE} fontWeight="bold" fontSize={19} fill="#fff">All anthocyanins</text>
        {BRACKETS.map((b, i) => (
          <g key={i} fill={b.c} stroke={b.c}>
            <rect x={2532} y={b.y0} width={5} height={b.y1 - b.y0} stroke="none" />
            <line x1={2537} x2={2543} y1={(b.y0 + b.y1) / 2} y2={(b.y0 + b.y1) / 2} strokeWidth={2} />
          </g>
        ))}
        {COLORBARS.map((cb) => (
          <ColorBar key={cb.id} cb={cb} />
        ))}
      </svg>
      {BAR_LAYOUT.map((s) => (
        <BarChart key={s.gene} spec={s} />
      ))}
      {HEATMAPS.map((h, i) => (
        <Heatmap key={i} h={h} />
      ))}
    </div>
  );
}
